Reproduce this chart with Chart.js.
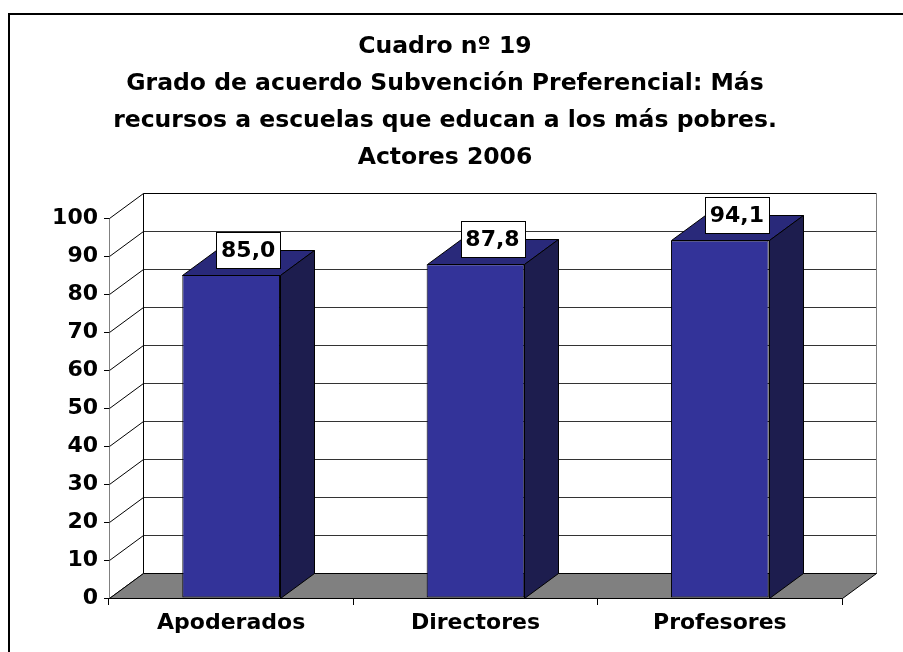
<!DOCTYPE html>
<html>
<head>
<meta charset="utf-8">
<script src="https://cdn.jsdelivr.net/npm/chart.js@4"></script>
<style>
  html, body { margin: 0; padding: 0; background: #fff; }
  canvas { display: block; }
</style>
</head>
<body>
<canvas id="chart" width="903" height="652"></canvas>
<script>
const categories = ["Apoderados", "Directores", "Profesores"];
const values = [85.0, 87.8, 94.1];
const yMin = 0;
const yMax = 100;
const yStep = 10;
const titleLines = [
  "Cuadro nº 19",
  "Grado de acuerdo Subvención Preferencial: Más",
  "recursos a escuelas que educan a los más pobres.",
  "Actores 2006"
];

// depth of the 3d box
const DX = 34;
const DY = -25;
const FONT = "DejaVu Sans";
const crisp = (v) => Math.round(v) + 0.5;

function poly(ctx, pts) {
  ctx.beginPath();
  ctx.moveTo(pts[0][0], pts[0][1]);
  for (let i = 1; i < pts.length; i++) ctx.lineTo(pts[i][0], pts[i][1]);
  ctx.closePath();
}

const box3d = {
  id: "box3d",
  beforeDraw(chart) {
    const ctx = chart.ctx;
    ctx.save();
    ctx.fillStyle = "#fff";
    ctx.fillRect(0, 0, chart.width, chart.height);
    ctx.strokeStyle = "#000";
    ctx.lineWidth = 2;
    ctx.strokeRect(9, 14, chart.width + 20, chart.height + 20);
    ctx.restore();
  },
  beforeDatasetsDraw(chart) {
    const { ctx, scales: { x, y } } = chart;
    const l = crisp(x.left);
    const r = crisp(x.right);
    const b = crisp(y.getPixelForValue(yMin));
    const t = crisp(y.getPixelForValue(yMax));
    ctx.save();
    ctx.lineWidth = 1;

    // side wall + back wall
    ctx.fillStyle = "#fff";
    poly(ctx, [[l, b], [l, t], [l + DX, t + DY], [r + DX, t + DY], [r + DX, b + DY], [l + DX, b + DY]]);
    ctx.fill();

    // grid lines (side wall diagonal + back wall)
    for (let v = yMin; v <= yMax; v += yStep) {
      const yy = crisp(y.getPixelForValue(v));
      ctx.strokeStyle = "#000";
      ctx.beginPath();
      ctx.moveTo(l, yy);
      ctx.lineTo(l + DX, yy + DY);
      ctx.stroke();
      ctx.strokeStyle = v === yMax ? "#000" : "#333";
      ctx.beginPath();
      ctx.moveTo(l + DX, yy + DY);
      ctx.lineTo(r + DX, yy + DY);
      ctx.stroke();
    }

    ctx.strokeStyle = "#000";
    ctx.beginPath();
    ctx.moveTo(l + DX, b + DY);
    ctx.lineTo(l + DX, t + DY);
    ctx.stroke();
    ctx.strokeStyle = "#808080";
    ctx.beginPath();
    ctx.moveTo(r + DX, b + DY);
    ctx.lineTo(r + DX, t + DY);
    ctx.stroke();

    // floor
    ctx.fillStyle = "#808080";
    ctx.strokeStyle = "#000";
    poly(ctx, [[l, b], [r, b], [r + DX, b + DY], [l + DX, b + DY]]);
    ctx.fill();
    ctx.stroke();
    ctx.restore();
  },
  afterDatasetsDraw(chart) {
    const ctx = chart.ctx;
    const meta = chart.getDatasetMeta(0);
    ctx.save();
    ctx.lineWidth = 1;
    ctx.strokeStyle = "#000";
    meta.data.forEach((bar, i) => {
      const xl = crisp(bar.x - bar.width / 2);
      const xr = crisp(bar.x + bar.width / 2);
      const top = crisp(bar.y);
      const base = crisp(bar.base);

      ctx.fillStyle = "#29297a";
      poly(ctx, [[xl, top], [xr, top], [xr + DX, top + DY], [xl + DX, top + DY]]);
      ctx.fill();
      ctx.stroke();

      ctx.fillStyle = "#1d1d4e";
      poly(ctx, [[xr, top], [xr + DX, top + DY], [xr + DX, base + DY], [xr, base]]);
      ctx.fill();
      ctx.stroke();

      // value label
      const txt = values[i].toFixed(1).replace(".", ",");
      ctx.font = "bold 22px '" + FONT + "'";
      const w = Math.round(ctx.measureText(txt).width + 10);
      const h = 36;
      const cx = bar.x + DX / 2;
      const cy = bar.y + DY;
      const bx = crisp(cx - w / 2);
      const by = crisp(cy - h / 2);
      ctx.fillStyle = "#fff";
      ctx.fillRect(bx, by, w, h);
      ctx.strokeRect(bx, by, w, h);
      ctx.fillStyle = "#000";
      ctx.textAlign = "center";
      ctx.textBaseline = "middle";
      ctx.fillText(txt, cx, cy + 1);
    });
    ctx.restore();
  }
};

const tickFont = { family: FONT, size: 22, weight: "bold" };

new Chart(document.getElementById("chart"), {
  type: "bar",
  data: {
    labels: categories,
    datasets: [
      {
        data: values,
        backgroundColor: "#333399",
        borderColor: "#000",
        borderWidth: 1,
        borderSkipped: false,
        categoryPercentage: 1,
        barPercentage: 0.4
      }
    ]
  },
  options: {
    responsive: false,
    animation: false,
    layout: { padding: { left: 0, right: 13, top: 0, bottom: 0 } },
    plugins: {
      legend: { display: false },
      tooltip: { enabled: false },
      title: {
        display: true,
        text: titleLines,
        color: "#000",
        font: { family: FONT, size: 23.5, weight: "bold", lineHeight: "37px" },
        padding: { top: 28, bottom: 42 }
      }
    },
    scales: {
      x: {
        z: 1,
        grid: { offset: true, drawOnChartArea: false, tickLength: 7, color: "#000" },
        border: { color: "#000" },
        ticks: { color: "#000", font: tickFont, padding: 5 },
        afterFit(s) { s.height = 54; }
      },
      y: {
        z: 1,
        min: yMin,
        max: yMax,
        ticks: { stepSize: yStep, color: "#000", font: tickFont, padding: 6 },
        grid: { drawOnChartArea: false, tickLength: 5, color: "#000" },
        border: { color: "#000" },
        afterFit(s) { s.width = 109; }
      },
      // empty axis, only keeps room for the 3d depth on the right
      yRight: {
        position: "right",
        grid: { display: false },
        ticks: { display: false },
        border: { display: false },
        afterFit(s) { s.width = 48; }
      }
    }
  },
  plugins: [box3d]
});
</script>
</body>
</html>
